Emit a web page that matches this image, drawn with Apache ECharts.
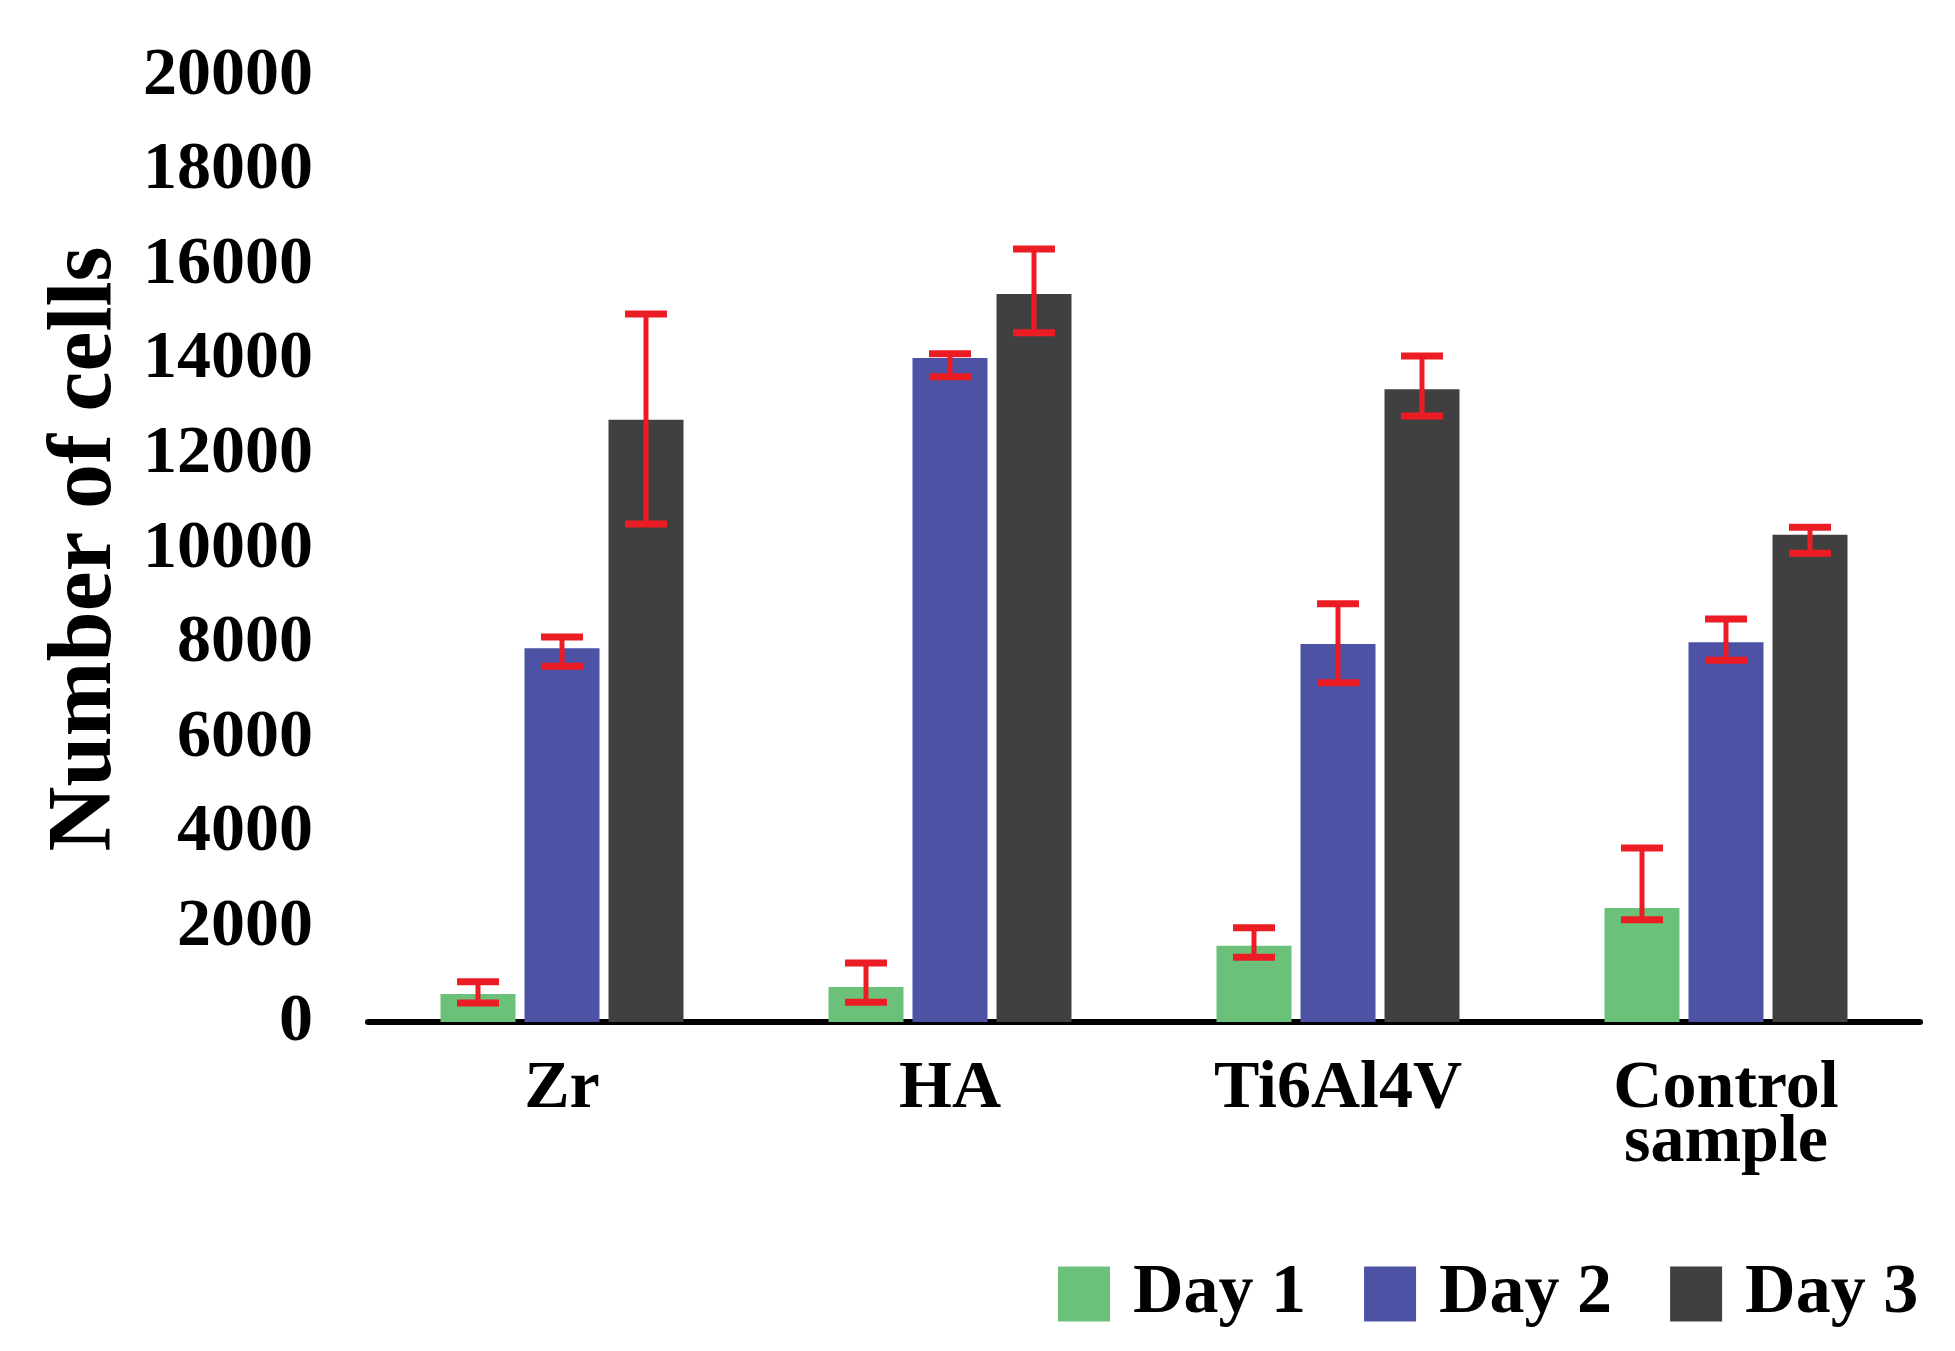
<!DOCTYPE html>
<html>
<head>
<meta charset="utf-8">
<script src="https://cdn.jsdelivr.net/npm/echarts@6/dist/echarts.min.js"></script>
<style>
html,body{margin:0;padding:0;background:#fff;}
#chart{width:1955px;height:1351px;}
</style>
</head>
<body>
<div id="chart"></div>
<script>
// ---- data ----
var categories = ['Zr', 'HA', 'Ti6Al4V', 'Control\nsample'];
var seriesNames = ['Day 1', 'Day 2', 'Day 3'];
var day1 = [590, 740, 1610, 2410];
var day2 = [7900, 14040, 7990, 8030];
var day3 = [12730, 15390, 13380, 10300];
// error bar ends (lower, upper)
var day1Low = [400, 420, 1370, 2160];
var day1High = [850, 1250, 1990, 3680];
var day2Low = [7520, 13640, 7170, 7650];
var day2High = [8140, 14130, 8840, 8520];
var day3Low = [10530, 14570, 12810, 9910];
var day3High = [14970, 16340, 14080, 10460];
var yMin = 0, yMax = 20000, yStep = 2000;

// ---- styling ----
var FONT = "'Liberation Serif','DejaVu Serif','Times New Roman',serif";
var colors = ['#6cc17a', '#4d52a5', '#404040'];
var ERR_COLOR = '#ec1c24';
var BAR_W = 75;
var BAR_GAP = 0.12;

var chart = echarts.init(document.getElementById('chart'), null, {renderer: 'canvas'});

var values = [day1, day2, day3];
var lows = [day1Low, day2Low, day3Low];
var highs = [day1High, day2High, day3High];

var barSeries = values.map(function (vals, i) {
  return {
    name: seriesNames[i],
    type: 'bar',
    data: vals,
    barWidth: BAR_W,
    barGap: (BAR_GAP * 100) + '%',
    itemStyle: {color: colors[i]},
    z: 2
  };
});

var errSeries = values.map(function (vals, si) {
  var data = categories.map(function (c, k) { return [k, lows[si][k], highs[si][k]]; });
  return {
    type: 'custom',
    name: 'err' + si,
    data: data,
    encode: {x: 0, y: [1, 2]},
    z: 5,
    silent: true,
    renderItem: function (params, api) {
      var x = api.value(0);
      var pLo = api.coord([x, api.value(1)]);
      var pHi = api.coord([x, api.value(2)]);
      var offset = (si - 1) * BAR_W * (1 + BAR_GAP);
      var cx = pLo[0] + offset;
      var capHalf = 21;
      var stemStyle = {stroke: ERR_COLOR, lineWidth: 5};
      var capStyle = {stroke: ERR_COLOR, lineWidth: 7};
      return {
        type: 'group',
        children: [
          {type: 'line', shape: {x1: cx, y1: pHi[1], x2: cx, y2: pLo[1]}, style: stemStyle},
          {type: 'line', shape: {x1: cx - capHalf, y1: pHi[1], x2: cx + capHalf, y2: pHi[1]}, style: capStyle},
          {type: 'line', shape: {x1: cx - capHalf, y1: pLo[1], x2: cx + capHalf, y2: pLo[1]}, style: capStyle}
        ]
      };
    }
  };
});

var option = {
  backgroundColor: '#ffffff',
  animation: false,
  color: colors,
  grid: {left: 368, right: 35, top: 76, bottom: 329, containLabel: false},
  legend: {
    data: seriesNames,
    left: 1053,
    top: 1254,
    itemWidth: 52,
    itemHeight: 55,
    itemGap: 58,
    icon: 'rect',
    textStyle: {fontFamily: FONT, fontWeight: 'bold', fontSize: 70, color: '#000', padding: [0, 0, 0, 18]}
  },
  xAxis: {
    type: 'category',
    data: categories,
    axisLine: {show: true, lineStyle: {color: '#000', width: 6}},
    axisTick: {show: false},
    axisLabel: {
      fontFamily: FONT, fontWeight: 'bold', fontSize: 68, color: '#000',
      margin: 40, lineHeight: 54, interval: 0
    }
  },
  yAxis: {
    type: 'value',
    min: yMin, max: yMax, interval: yStep,
    name: 'Number of cells',
    nameLocation: 'middle',
    nameGap: 233,
    nameRotate: 90,
    nameTextStyle: {fontFamily: FONT, fontWeight: 'bold', fontSize: 90, color: '#000'},
    axisLine: {show: false},
    axisTick: {show: false},
    splitLine: {show: false},
    axisLabel: {
      fontFamily: FONT, fontWeight: 'bold', fontSize: 68, color: '#000',
      margin: 55, padding: [0, 0, 18, 0],
      formatter: function (v) { return String(v); }
    }
  },
  series: barSeries.concat(errSeries)
};

chart.setOption(option);
</script>
</body>
</html>
